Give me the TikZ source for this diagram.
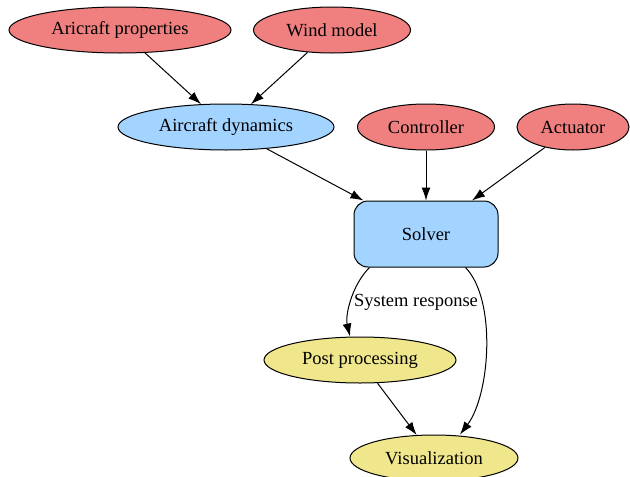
\documentclass[tikz,border=0pt]{standalone}
\usepackage{fontspec}
\setmainfont{Liberation Serif}
\usetikzlibrary{shapes.geometric,arrows.meta}
\definecolor{corail}{HTML}{F08080}
\definecolor{bleuciel}{HTML}{A3D3FF}
\definecolor{kaki}{HTML}{F0E68C}
\tikzset{
	bulle/.style={ellipse,draw,line width=1pt,inner sep=0pt,minimum height=46pt,font=\fontsize{18.5}{21}\selectfont},
	boite/.style={rectangle,draw,rounded corners=14pt,line width=1pt,inner sep=0pt,font=\fontsize{18.5}{21}\selectfont},
	fleche/.style={-{Latex[length=13pt,width=9pt]},line width=1pt},
}
\begin{document}
\begin{tikzpicture}[x=1pt,y=1pt]
	% Dimensions du cadre
	\def\largeur{630}
	\def\hauteur{477}
	\useasboundingbox (0,-\hauteur) rectangle (\largeur,0);
	% Entrees
	\node[bulle,fill=corail,minimum width=222pt] (proprietes) at (120,-30) {Aricraft properties};
	\node[bulle,fill=corail,minimum width=157pt] (vent) at (332,-30) {Wind model};
	\node[bulle,fill=bleuciel,minimum width=216pt] (dynamique) at (226,-127) {Aircraft dynamics};
	\node[bulle,fill=corail,minimum width=137pt] (controleur) at (426,-127) {Controller};
	\node[bulle,fill=corail,minimum width=112pt] (actionneur) at (573,-127) {Actuator};
	% Solveur
	\node[boite,fill=bleuciel,minimum width=144pt,minimum height=66pt] (solveur) at (426,-234) {Solver};
	% Sorties
	\node[bulle,fill=kaki,minimum width=192pt] (post) at (360,-360) {Post processing};
	\node[bulle,fill=kaki,minimum width=168pt] (visu) at (434,-458) {Visualization};
	\node[font=\fontsize{18.5}{21}\selectfont] (reponse) at (416,-302) {System response};
	% Liaisons
	\draw [fleche] (proprietes) -- (dynamique);
	\draw [fleche] (vent) -- (dynamique);
	\draw [fleche] (dynamique) -- (solveur);
	\draw [fleche] (controleur) -- (solveur);
	\draw [fleche] (actionneur) -- (solveur);
	\draw [fleche] ([xshift=16pt]solveur.south west) .. controls (352,-285) and (345,-315) .. ([xshift=-10pt]post.north);
	\draw [fleche] ([xshift=-33pt]solveur.south east) .. controls (497,-300) and (490,-395) .. ([xshift=26pt]visu.north);
	\draw [fleche] (post) -- (visu);
\end{tikzpicture}
\end{document}
